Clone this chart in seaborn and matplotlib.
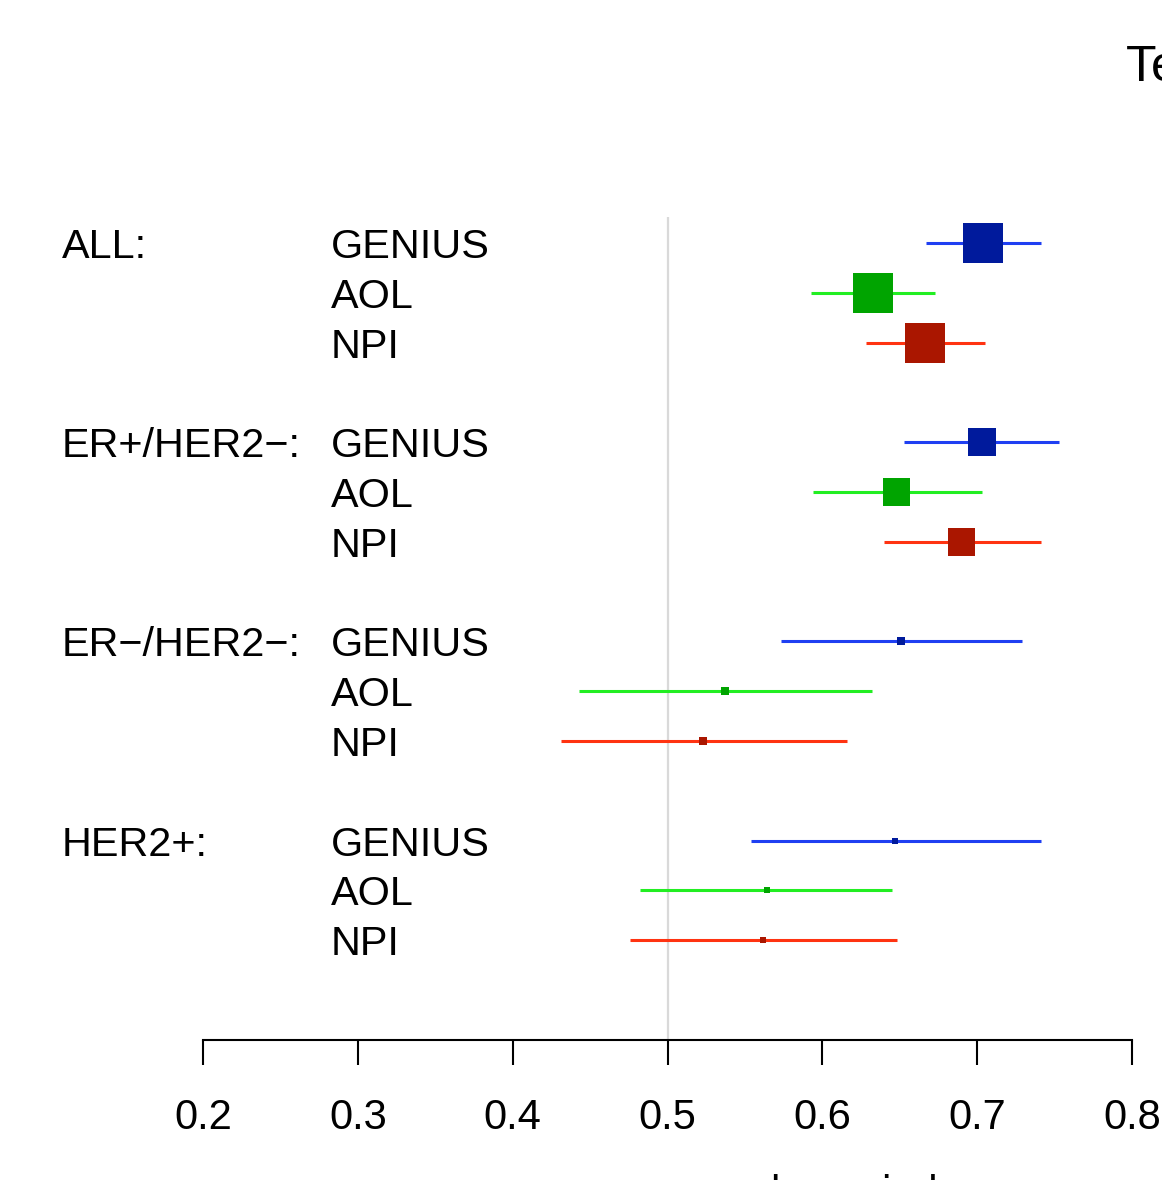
import matplotlib
matplotlib.use("Agg")
import matplotlib.pyplot as plt
import matplotlib.transforms as mtransforms
import seaborn as sns
import pandas as pd

# --- data ---
groups = ["ALL:", "ER+/HER2\u2212:", "ER\u2212/HER2\u2212:", "HER2+:"]
methods = ["GENIUS", "AOL", "NPI"]

# c-index estimate and CI per group, in method order GENIUS, AOL, NPI
est_all = [0.704, 0.633, 0.666]
lo_all = [0.667, 0.593, 0.628]
hi_all = [0.741, 0.673, 0.705]

est_erpos = [0.703, 0.648, 0.690]
lo_erpos = [0.653, 0.594, 0.640]
hi_erpos = [0.753, 0.703, 0.741]

est_erneg = [0.651, 0.537, 0.523]
lo_erneg = [0.573, 0.443, 0.431]
hi_erneg = [0.729, 0.632, 0.616]

est_her2 = [0.647, 0.564, 0.562]
lo_her2 = [0.554, 0.482, 0.476]
hi_her2 = [0.741, 0.645, 0.648]

# relative box weight per group (forestplot box size)
group_weight = [1.0, 0.69, 0.2, 0.15]

x_ticks = [0.2, 0.3, 0.4, 0.5, 0.6, 0.7, 0.8]
ref_line = 0.5
title_text = "Test set"
xlab_text = "concordance index"

# --- build table ---
rows = []
est_list = [est_all, est_erpos, est_erneg, est_her2]
lo_list = [lo_all, lo_erpos, lo_erneg, lo_her2]
hi_list = [hi_all, hi_erpos, hi_erneg, hi_her2]
for g, grp in enumerate(groups):
    for m, meth in enumerate(methods):
        rows.append({
            "group": grp,
            "method": meth,
            "row": g * 4 + m,
            "est": est_list[g][m],
            "lo": lo_list[g][m],
            "hi": hi_list[g][m],
            "weight": group_weight[g],
        })
df = pd.DataFrame(rows)

line_cols = {"GENIUS": "#1f3ff2", "AOL": "#22ee22", "NPI": "#ff3311"}
box_cols = {"GENIUS": "#001a9c", "AOL": "#00a400", "NPI": "#aa1600"}

sns.set_style("white")
plt.rcParams["font.family"] = ["Liberation Sans", "DejaVu Sans"]
plt.rcParams["text.color"] = "black"
plt.rcParams["xtick.color"] = "black"

W, H = 1162, 1180
fig = plt.figure(figsize=(W / 100, H / 100), dpi=100)
# axes spans x 0.2..0.8 exactly (px 203..1132), y from 200 to 1040 px
ax = fig.add_axes([203 / W, 1 - 1040 / H, (1132 - 203) / W, (1040 - 200) / H])

row_px = 49.8
ax.set_xlim(0.2, 0.8)
ax.set_ylim((1040 - 243) / row_px, (200 - 243) / row_px)

ax.vlines(ref_line, -0.52, (1040 - 243) / row_px, color="#d9d9d9", lw=1.6, zorder=1)

for _, r in df.iterrows():
    ax.hlines(r["row"], r["lo"], r["hi"], color=line_cols[r["method"]], lw=2.2, zorder=2)

# box edge in points: ~40 px for weight 1
df["msize"] = (df["weight"] * 40 * 0.72) ** 2
sns.scatterplot(data=df, x="est", y="row", hue="method", palette=box_cols,
                size="msize", sizes=(df["msize"].min(), df["msize"].max()),
                marker="s", linewidth=0, legend=False, ax=ax, zorder=3)

for s in ["top", "right", "left"]:
    ax.spines[s].set_visible(False)
ax.spines["bottom"].set_linewidth(1.5)
ax.spines["bottom"].set_color("black")
ax.set_xticks(x_ticks)
ax.set_xticklabels([f"{t:.1f}" for t in x_ticks])
ax.tick_params(axis="x", direction="out", length=18, width=1.5, pad=24,
               labelsize=30, bottom=True, color="black", labelcolor="black")
ax.set_yticks([])
ax.set_xlabel("")
ax.set_ylabel("")

# left-hand text columns
tr = mtransforms.blended_transform_factory(fig.transFigure, ax.transData)
for g, grp in enumerate(groups):
    ax.text(62 / W, g * 4, grp, transform=tr, ha="left", va="center_baseline",
            fontsize=29.8, clip_on=False)
    for m, meth in enumerate(methods):
        ax.text(331 / W, g * 4 + m, meth, transform=tr, ha="left",
                va="center_baseline", fontsize=29.8, clip_on=False)

fig.text(1126 / W, 1 - 68 / H, title_text, ha="left", va="center", fontsize=36)
fig.text(632 / W, 1 - 1174 / H, xlab_text, ha="left", va="top", fontsize=30)

fig.savefig("out.png", dpi=100)
